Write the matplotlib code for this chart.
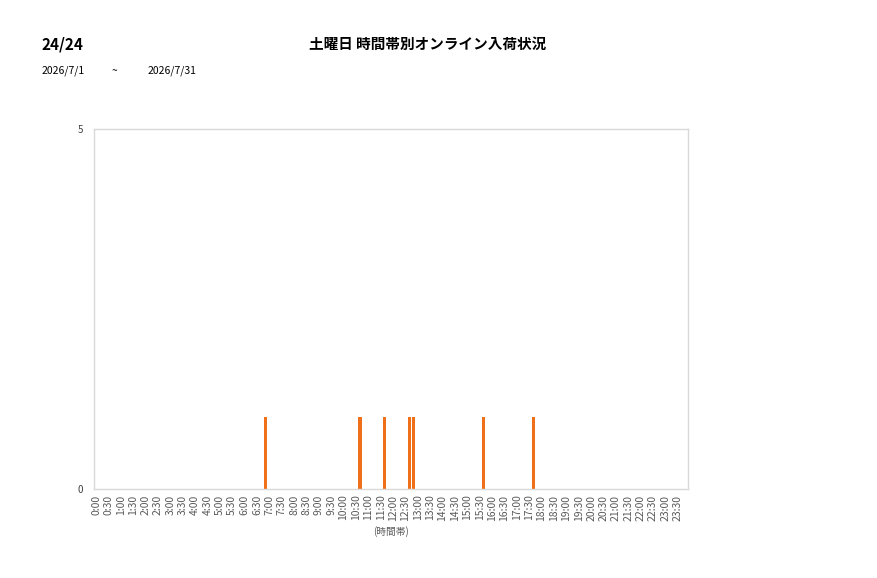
import matplotlib
matplotlib.use('Agg')
import matplotlib.pyplot as plt
import numpy as np

plt.rcParams['font.family'] = ['Noto Sans CJK JP', 'DejaVu Sans']

# 10-minute time slots across the day
slot_labels = ['%d:%02d' % (m // 60, m % 60) for m in range(0, 24 * 60, 10)]

# slots that had arrivals
arrival_slots = ['6:50', '10:40', '11:40', '12:40', '12:50', '15:40', '17:40']
arrival_counts = [1, 1, 1, 1, 1, 1, 1]

counts = np.zeros(len(slot_labels))
for s, c in zip(arrival_slots, arrival_counts):
    counts[slot_labels.index(s)] = c

fig = plt.figure(figsize=(8.77, 5.78), dpi=100)
ax = fig.add_axes([94 / 877, 1 - 489 / 578, 594 / 877, 360 / 578])

x = np.arange(len(slot_labels))
ax.bar(x, counts, width=0.8, color='#f0701a')

ax.set_xlim(-0.5, len(slot_labels) - 0.5)
ax.set_ylim(0, 5)
ax.set_yticks([0, 5])
ax.set_yticklabels(['0', '5'], fontsize=7, color='#404040')

tick_idx = x[::3]
ax.set_xticks(tick_idx)
ax.set_xticklabels([slot_labels[i] for i in tick_idx], rotation=90, fontsize=7.5, color='#595959')
ax.tick_params(length=0, pad=4)
ax.tick_params(axis='y', pad=8)

for sp in ax.spines.values():
    sp.set_color('#d9d9d9')
    sp.set_linewidth(1)

ax.set_xlabel('(時間帯)', fontsize=7, color='#595959', labelpad=4)

fig.text(42 / 877, 1 - 44 / 578, '24/24', fontsize=11, fontweight='bold', color='#000000', va='center')
fig.text(428 / 877, 1 - 44 / 578, '土曜日 時間帯別オンライン入荷状況', fontsize=10.5,
         fontweight='bold', color='#000000', va='center', ha='center')
fig.text(42 / 877, 1 - 71 / 578, '2026/7/1', fontsize=7.5, color='#000000', va='center')
fig.text(112 / 877, 1 - 71 / 578, '~', fontsize=7.5, color='#000000', va='center')
fig.text(148 / 877, 1 - 71 / 578, '2026/7/31', fontsize=7.5, color='#000000', va='center')

fig.savefig('out.png', dpi=100)
